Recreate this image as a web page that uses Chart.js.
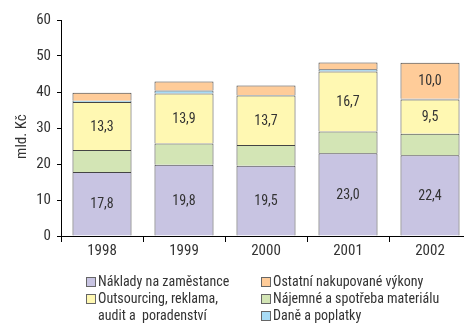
<!DOCTYPE html>
<html>
<head>
<meta charset="utf-8">
<script src="https://cdn.jsdelivr.net/npm/chart.js@4.4.1/dist/chart.umd.min.js"></script>
<style>
  body { margin: 0; width: 464px; height: 324px; overflow: hidden; background: #fff; position: relative;
         font-family: "Roboto Condensed", sans-serif; }
  #wrap { position: absolute; left: 0; top: 0; width: 472px; height: 324px; }
  .legend { position: absolute; top: 273px; font-size: 14px; color: #333; line-height: 17px; }
  .item { position: relative; padding-left: 12px; white-space: pre; }
  .box { position: absolute; left: 0; top: 4px; width: 8px; height: 8px; border: 1px solid #666; }
</style>
</head>
<body>
<div id="wrap"><canvas id="costChart" width="472" height="324"></canvas></div>
<div class="legend" id="legLeft" style="left:86px"></div>
<div class="legend" id="legRight" style="left:261px"></div>
<script>
const FONT = '"Roboto Condensed", sans-serif';

const years = ['1998', '1999', '2000', '2001', '2002'];

// stacked bottom to top
const naklady = [17.8, 19.8, 19.5, 23.0, 22.4];
const najemne = [6.1, 5.9, 5.8, 6.0, 6.0];
const outsourcing = [13.3, 13.9, 13.7, 16.7, 9.5];
const dane = [0.4, 0.8, 0.2, 0.6, 0.2];
const ostatni = [2.2, 2.5, 2.6, 1.9, 10.0];

const yTicks = [0, 10, 20, 30, 40, 50, 60];

const series = [
  { label: 'Náklady na zaměstance', data: naklady, color: '#c8c4e2', showValues: true },
  { label: 'Nájemné a spotřeba materiálu', data: najemne, color: '#d3e5b5', showValues: false },
  { label: 'Outsourcing, reklama,\naudit a  poradenství', data: outsourcing, color: '#fff8b2', showValues: true },
  { label: 'Daně a poplatky', data: dane, color: '#a8dcf6', showValues: false },
  { label: 'Ostatní nakupované výkony', data: ostatni, color: '#ffcc99', showValues: true }
];

// legend columns hold dataset indices
const legendLeft = [0, 2];
const legendRight = [4, 1, 3];

function fillLegend(id, idx) {
  const el = document.getElementById(id);
  idx.forEach(i => {
    const item = document.createElement('div');
    item.className = 'item';
    item.textContent = series[i].label;
    const box = document.createElement('span');
    box.className = 'box';
    box.style.background = series[i].color;
    item.appendChild(box);
    el.appendChild(item);
  });
}
fillLegend('legLeft', legendLeft);
fillLegend('legRight', legendRight);

const fmt = v => v.toFixed(1).replace('.', ',');

const valueLabels = {
  id: 'valueLabels',
  afterDatasetsDraw(chart) {
    const ctx = chart.ctx;
    ctx.save();
    ctx.font = '14px ' + FONT;
    ctx.fillStyle = '#333';
    ctx.textAlign = 'center';
    ctx.textBaseline = 'middle';
    chart.data.datasets.forEach((ds, di) => {
      if (!series[di].showValues) return;
      chart.getDatasetMeta(di).data.forEach((bar, i) => {
        const v = ds.data[i];
        if (v < 5) return;
        ctx.fillText(fmt(v), bar.x, (bar.y + bar.base) / 2 + 1);
      });
    });
    ctx.restore();
  }
};

const yTitle = {
  id: 'yTitle',
  afterDraw(chart) {
    const { ctx, chartArea } = chart;
    ctx.save();
    ctx.translate(22, chartArea.top + (chartArea.bottom - chartArea.top) * 0.54);
    ctx.rotate(-Math.PI / 2);
    ctx.font = '15px ' + FONT;
    ctx.fillStyle = '#333';
    ctx.textAlign = 'center';
    ctx.textBaseline = 'middle';
    ctx.fillText('mld. Kč', 0, 0);
    ctx.restore();
  }
};

new Chart(document.getElementById('costChart'), {
  type: 'bar',
  data: {
    labels: years,
    datasets: series.map(s => ({
      label: s.label,
      data: s.data,
      backgroundColor: s.color,
      borderColor: '#444',
      borderWidth: 1,
      categoryPercentage: 1,
      barPercentage: 0.72
    }))
  },
  options: {
    responsive: false,
    animation: false,
    layout: { padding: { top: 20, right: 1, left: 0, bottom: 0 }, autoPadding: false },
    plugins: { legend: { display: false }, tooltip: { enabled: false } },
    scales: {
      x: {
        stacked: true,
        grid: { offset: true, drawOnChartArea: false, tickLength: 6, color: '#000' },
        border: { color: '#000' },
        ticks: { font: { size: 15, family: FONT }, color: '#333', padding: 0 },
        afterFit: s => { s.height = 88; }
      },
      y: {
        stacked: true,
        min: 0,
        max: 60,
        afterBuildTicks: s => { s.ticks = yTicks.map(v => ({ value: v })); },
        grid: { drawOnChartArea: false, tickLength: 4, color: '#000' },
        border: { color: '#000' },
        ticks: { font: { size: 15, family: FONT }, color: '#333', padding: 6 },
        afterFit: s => { s.width = 61; }
      }
    }
  },
  plugins: [valueLabels, yTitle]
});
</script>
</body>
</html>
